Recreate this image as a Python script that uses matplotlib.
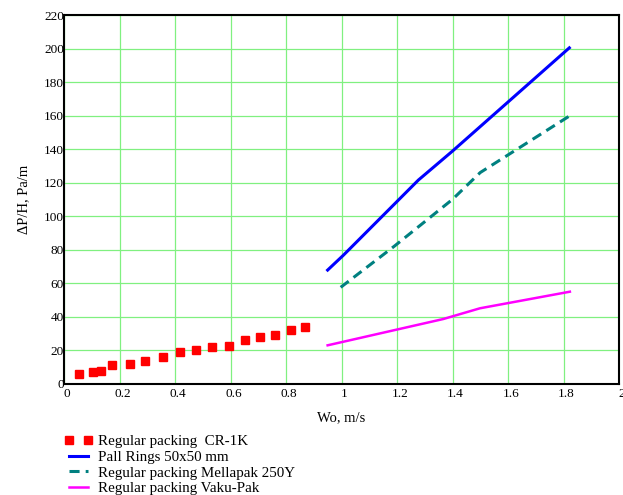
import numpy as np
import matplotlib
matplotlib.use("Agg")
import matplotlib.pyplot as plt
from matplotlib.lines import Line2D
import matplotlib.transforms as mtransforms

plt.rcParams['font.family'] = ['Liberation Serif', 'DejaVu Serif']

# Regular packing CR-1K (points)
cr_x = [0.055, 0.105, 0.132, 0.174, 0.237, 0.293, 0.357, 0.418, 0.476, 0.534,
        0.593, 0.653, 0.706, 0.762, 0.818, 0.870]
cr_y = [6.0, 7.0, 7.8, 11.0, 11.7, 13.7, 15.9, 18.9, 19.9, 21.9,
        22.7, 25.9, 27.8, 29.0, 32.0, 34.0]

# Pall Rings 50x50 mm
pall_x = [0.95, 1.007, 1.277, 1.40, 1.821]
pall_y = [67.8, 76.7, 121.5, 138.8, 200.4]

# Regular packing Mellapak 250Y
mella_x = [0.997, 1.19, 1.40, 1.50, 1.822]
mella_y = [57.5, 82.0, 110.0, 126.0, 159.8]

# Regular packing Vaku-Pak
vaku_x = [0.95, 1.367, 1.499, 1.823]
vaku_y = [22.9, 38.6, 45.0, 54.9]

labels = ["Regular packing  CR-1K", "Pall Rings 50x50 mm",
          "Regular packing Mellapak 250Y", "Regular packing Vaku-Pak"]

fig = plt.figure(figsize=(6.23, 4.95), dpi=100)
ax = fig.add_axes([64 / 623, 1 - 383.7 / 495, 555 / 623, (383.7 - 15) / 495])

ax.plot(cr_x, cr_y, linestyle="none", marker="s", markersize=6.3, color="red")
ax.plot(pall_x, pall_y, color="blue", lw=2.2)
ax.plot(mella_x, mella_y, color="#008080", lw=2.2, dashes=(3.3, 2.0))
ax.plot(vaku_x, vaku_y, color="magenta", lw=1.8)

ax.set_xlim(0, 2)
ax.set_ylim(0, 220)
ax.set_xticks(np.arange(0, 2.01, 0.2))
ax.set_xticklabels(["0", "0.2", "0.4", "0.6", "0.8", "1", "1.2", "1.4", "1.6", "1.8", "2"])
ax.set_yticks(np.arange(0, 221, 20))
ax.grid(True, color="#80f080", lw=0.9)
ax.set_axisbelow(True)
ax.tick_params(length=0, labelsize=9.5)
ax.tick_params(axis="y", pad=0)
ax.tick_params(axis="x", pad=3)
for s in ax.spines.values():
    s.set_linewidth(1.5)
    s.set_color("black")

# shift x tick labels slightly right like the original
offset = mtransforms.ScaledTranslation(3 / 100, 0, fig.dpi_scale_trans)
for lab in ax.get_xticklabels():
    lab.set_transform(lab.get_transform() + offset)

ax.set_xlabel("Wo, m/s", fontsize=10.5, labelpad=8)
ax.set_ylabel("ΔP/H, Pa/m", fontsize=10.5, labelpad=10)

handles = [
    Line2D([], [], linestyle="none", marker="s", markersize=6.3, color="red"),
    Line2D([], [], color="blue", lw=2.2),
    Line2D([], [], color="#008080", lw=2.2, dashes=(3.3, 2.0)),
    Line2D([], [], color="magenta", lw=1.8),
]
fig.legend(handles, labels, loc="upper left", bbox_to_anchor=(64 / 623, 1 - 435 / 495),
           frameon=False, fontsize=10.8, numpoints=2, handlelength=1.9,
           handletextpad=0.35, labelspacing=0.14, borderpad=0, borderaxespad=0)

fig.savefig("out.png", dpi=100)
